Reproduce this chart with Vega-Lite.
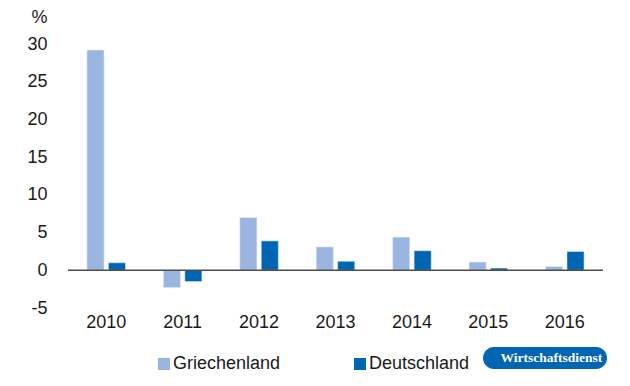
{
  "$schema": "https://vega.github.io/schema/vega-lite/v6.json",
  "width": 535,
  "height": 264,
  "autosize": {"type": "none"},
  "padding": {"left": 68, "top": 44, "right": 27, "bottom": 78},
  "background": "white",
  "config": {
    "view": {"stroke": null},
    "font": "Liberation Sans",
    "axis": {"labelFont": "Liberation Sans", "titleFont": "Liberation Sans", "labelColor": "#1a1a1a", "titleColor": "#1a1a1a", "labelOverlap": false},
    "legend": {"labelFont": "Liberation Sans"}
  },
  "layer": [
    {
      "data": {
        "values": [
          {"jahr": "2010", "land": "Griechenland", "wert": 29.2},
          {"jahr": "2010", "land": "Deutschland", "wert": 1.0},
          {"jahr": "2011", "land": "Griechenland", "wert": -2.3},
          {"jahr": "2011", "land": "Deutschland", "wert": -1.5},
          {"jahr": "2012", "land": "Griechenland", "wert": 7.0},
          {"jahr": "2012", "land": "Deutschland", "wert": 3.9},
          {"jahr": "2013", "land": "Griechenland", "wert": 3.1},
          {"jahr": "2013", "land": "Deutschland", "wert": 1.2},
          {"jahr": "2014", "land": "Griechenland", "wert": 4.4},
          {"jahr": "2014", "land": "Deutschland", "wert": 2.6},
          {"jahr": "2015", "land": "Griechenland", "wert": 1.1},
          {"jahr": "2015", "land": "Deutschland", "wert": 0.3},
          {"jahr": "2016", "land": "Griechenland", "wert": 0.5},
          {"jahr": "2016", "land": "Deutschland", "wert": 2.5}
        ]
      },
      "mark": {"type": "bar", "stroke": "#e8eef8", "strokeWidth": 0.6},
      "encoding": {
        "x": {
          "field": "jahr", "type": "nominal",
          "scale": {"paddingInner": 0.495, "paddingOuter": 0.2475},
          "axis": {"title": null, "labelAngle": 0, "domain": false, "ticks": false, "labelPadding": 5, "labelFontSize": 18}
        },
        "xOffset": {
          "field": "land", "type": "nominal",
          "sort": ["Griechenland", "Deutschland"],
          "scale": {"paddingInner": 0.2, "paddingOuter": 0}
        },
        "y": {
          "field": "wert", "type": "quantitative",
          "scale": {"domain": [-5, 30], "nice": false},
          "axis": {
            "title": "%", "titleAngle": 0, "titleAlign": "right", "titleBaseline": "middle",
            "titleX": -21, "titleY": -27, "titleFontSize": 18, "titleFontWeight": "normal",
            "values": [-5, 0, 5, 10, 15, 20, 25, 30],
            "labelExpr": "datum.value + ''",
            "labelOverlap": false,
            "domain": false, "ticks": false, "grid": false,
            "labelPadding": 21, "labelFontSize": 18
          }
        },
        "color": {
          "field": "land", "type": "nominal",
          "scale": {"domain": ["Griechenland", "Deutschland"], "range": ["#9ab5e0", "#0065b3"]},
          "legend": {
            "title": null, "orient": "none", "direction": "horizontal",
            "legendX": 87, "legendY": 311, "padding": 0,
            "symbolType": "square", "symbolSize": 144, "symbolStrokeWidth": 0,
            "labelFontSize": 18, "labelOffset": 0, "columnPadding": 70, "labelColor": "#1a1a1a"
          }
        }
      }
    },
    {
      "data": {"values": [{"v": 0}]},
      "mark": {"type": "rule", "color": "#4d4d4d", "strokeWidth": 1.5},
      "encoding": {
        "y": {
          "field": "v", "type": "quantitative",
          "scale": {"domain": [-5, 30], "nice": false},
          "axis": {
            "title": "%", "titleAngle": 0, "titleAlign": "right", "titleBaseline": "middle",
            "titleX": -21, "titleY": -27, "titleFontSize": 18, "titleFontWeight": "normal",
            "values": [-5, 0, 5, 10, 15, 20, 25, 30],
            "labelExpr": "datum.value + ''",
            "labelOverlap": false,
            "domain": false, "ticks": false, "grid": false,
            "labelPadding": 21, "labelFontSize": 18
          }
        }
      }
    },
    {
      "data": {"values": [{"quelle": "Wirtschaftsdienst"}]},
      "mark": {"type": "point", "opacity": 0},
      "encoding": {
        "shape": {
          "field": "quelle", "type": "nominal",
          "legend": {
            "title": null, "orient": "none", "legendX": 415, "legendY": 303,
            "fillColor": "#0065b3", "cornerRadius": 11, "padding": 4,
            "symbolSize": 0, "symbolOpacity": 0, "symbolStrokeWidth": 0, "labelOffset": 0,
            "labelFont": "Liberation Serif", "labelFontSize": 13.5, "labelFontWeight": "bold",
            "labelColor": "white",
            "labelExpr": "'\u2002' + datum.label + '\u2002'"
          }
        }
      }
    }
  ]
}
